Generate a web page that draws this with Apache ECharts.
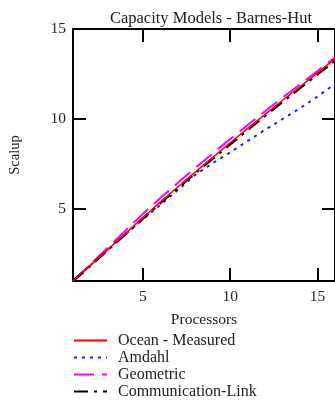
<!DOCTYPE html>
<html>
<head>
<meta charset="utf-8">
<script src="https://cdn.jsdelivr.net/npm/echarts@6/dist/echarts.min.js"></script>
<style>
  html, body { margin: 0; padding: 0; background: #fff; }
  #chart { width: 335px; height: 405px; }
</style>
</head>
<body>
<div id="chart"></div>
<script>
// values
const processors = [1, 2, 3, 4, 5, 6, 7, 8, 9, 10, 11, 12, 13, 14, 15, 16];
const oceanMeasured = [1, 1.88, 2.76, 3.64, 4.52, 5.38, 6.22, 7.05, 7.87, 8.68, 9.48, 10.26, 11.04, 11.8, 12.56, 13.35];
const amdahl = [1, 1.88, 2.75, 3.6, 4.43, 5.22, 6.05, 6.9, 7.55, 8.15, 8.78, 9.4, 10.0, 10.6, 11.25, 11.95];
const geometric = [1, 1.93, 2.87, 3.8, 4.73, 5.61, 6.46, 7.28, 8.09, 8.89, 9.67, 10.43, 11.19, 11.93, 12.67, 13.43];
const commLink = [1, 1.86, 2.73, 3.6, 4.47, 5.33, 6.17, 7.0, 7.8, 8.6, 9.4, 10.18, 10.95, 11.72, 12.48, 13.25];
const tickValues = [5, 10, 15];

const font = '"Liberation Serif", "Times New Roman", serif';
const pairs = ys => processors.map((x, i) => [x, ys[i]]);

const chart = echarts.init(document.getElementById('chart'));

// shared axis look: black frame, ticks pointing inward
const frameAxis = (extra) => Object.assign({
  type: 'value',
  axisLine: { show: true, onZero: false, lineStyle: { color: '#000', width: 2 } },
  axisTick: { show: true, inside: true, length: 13, lineStyle: { color: '#000', width: 2 }, customValues: tickValues },
  splitLine: { show: false }
}, extra);

const option = {
  animation: false,
  title: {
    text: 'Capacity Models - Barnes-Hut',
    left: 206,
    textAlign: 'center',
    top: 5,
    textStyle: { fontFamily: font, fontSize: 16.5, fontWeight: 'normal', color: '#222' }
  },
  grid: { left: 73, top: 29, right: 0, bottom: 124 },
  legend: {
    orient: 'vertical',
    left: 73,
    top: 332,
    height: 80,
    padding: 0,
    itemWidth: 33,
    itemHeight: 10,
    itemGap: 0,
    itemStyle: { opacity: 0 },
    textStyle: { fontFamily: font, fontSize: 16, lineHeight: 17, color: '#222', padding: [0, 0, 0, 6] },
    data: ['Ocean - Measured', 'Amdahl', 'Geometric', 'Communication-Link']
  },
  xAxis: [
    frameAxis({
      min: 1, max: 16,
      position: 'bottom',
      name: 'Processors',
      nameLocation: 'middle',
      nameGap: 31,
      nameTextStyle: { fontFamily: font, fontSize: 15.5, color: '#222' },
      axisLabel: { show: true, customValues: tickValues, margin: 8, fontFamily: font, fontSize: 15.5, color: '#222' }
    }),
    frameAxis({ min: 1, max: 16, position: 'top', axisLabel: { show: false } })
  ],
  yAxis: [
    frameAxis({
      min: 1, max: 15,
      position: 'left',
      name: 'Scalup',
      nameLocation: 'middle',
      nameGap: 50,
      nameTextStyle: { fontFamily: font, fontSize: 14.5, color: '#222' },
      axisLabel: { show: true, customValues: tickValues, margin: 7, fontFamily: font, fontSize: 15.5, color: '#222' }
    }),
    frameAxis({ min: 1, max: 15, position: 'right', axisLabel: { show: false } })
  ],
  series: [
    {
      name: 'Ocean - Measured', type: 'line', data: pairs(oceanMeasured), symbol: 'none', z: 5,
      lineStyle: { color: '#ff0000', width: 1.5 }, itemStyle: { color: '#ff0000' }
    },
    {
      name: 'Amdahl', type: 'line', data: pairs(amdahl), symbol: 'none', z: 3,
      lineStyle: { color: '#1a1aff', width: 2, type: [3, 5] }, itemStyle: { color: '#1a1aff' }
    },
    {
      name: 'Geometric', type: 'line', data: pairs(geometric), symbol: 'none', z: 2,
      lineStyle: { color: '#ff00ff', width: 2, type: [20, 8] }, itemStyle: { color: '#ff00ff' }
    },
    {
      name: 'Communication-Link', type: 'line', data: pairs(commLink), symbol: 'none', z: 4,
      lineStyle: { color: '#000', width: 2.5, type: [14, 6, 3, 6] }, itemStyle: { color: '#000' }
    }
  ]
};

chart.setOption(option);
</script>
</body>
</html>
